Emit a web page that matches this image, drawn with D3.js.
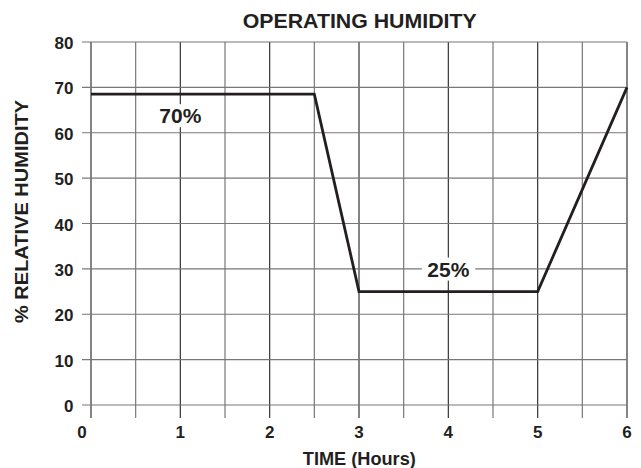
<!DOCTYPE html>
<html>
<head>
<meta charset="utf-8">
<script src="https://cdn.jsdelivr.net/npm/d3@7"></script>
<style>
  body { margin: 0; background: #fff; }
  text { font-family: "Liberation Sans", Arial, sans-serif; font-weight: bold; fill: #231f20; }
</style>
</head>
<body>
<div id="chart"></div>
<script>
// profile points (hours, % RH)
var hours = [0, 2.5, 3, 5, 6];
var humidity = [68.5, 68.5, 25, 25, 70];
var xTicks = [0, 1, 2, 3, 4, 5, 6];
var yTicks = [0, 10, 20, 30, 40, 50, 60, 70, 80];
var labelText = ["70%", "25%"];
var labelX = [1, 4];
var labelY = [62.1, 28.3];

var width = 641, height = 468;
var margin = { left: 91, right: 14, top: 42, bottom: 63 };

var x = d3.scaleLinear().domain([0, 6]).range([margin.left, width - margin.right]);
var y = d3.scaleLinear().domain([0, 80]).range([height - margin.bottom, margin.top]);

var svg = d3.select("#chart").append("svg")
  .attr("width", width)
  .attr("height", height);

// vertical grid, every half hour, sticking out below the plot
var halfHours = d3.range(0, 6.01, 0.5);
svg.append("g").selectAll("line")
  .data(halfHours)
  .enter().append("line")
  .attr("x1", d => x(d)).attr("x2", d => x(d))
  .attr("y1", y(80)).attr("y2", y(0) + 13)
  .attr("stroke", d => d % 1 === 0 ? "#333" : "#777")
  .attr("stroke-width", 1.2);

// horizontal grid, sticking out to the left
svg.append("g").selectAll("line")
  .data(yTicks)
  .enter().append("line")
  .attr("x1", x(0) - 9).attr("x2", x(6))
  .attr("y1", d => y(d)).attr("y2", d => y(d))
  .attr("stroke", "#777")
  .attr("stroke-width", 1.2);

// tick labels
svg.append("g").selectAll("text")
  .data(yTicks)
  .enter().append("text")
  .attr("x", 73.5)
  .attr("y", d => y(d) + 7)
  .attr("text-anchor", "end")
  .attr("font-size", "17px")
  .text(d => d);

svg.append("g").selectAll("text")
  .data(xTicks)
  .enter().append("text")
  .attr("x", d => d === 0 ? x(d) - 9 : x(d))
  .attr("y", 438)
  .attr("text-anchor", "middle")
  .attr("font-size", "17px")
  .text(d => d);

// the humidity profile
var line = d3.line().x(d => x(d[0])).y(d => y(d[1]));
svg.append("path")
  .datum(d3.zip(hours, humidity))
  .attr("d", line)
  .attr("fill", "none")
  .attr("stroke", "#231f20")
  .attr("stroke-width", 2.8)
  .attr("stroke-linejoin", "miter");

// level labels on white boxes
labelText.forEach(function (t, i) {
  var g = svg.append("g");
  var txt = g.append("text")
    .attr("x", x(labelX[i]))
    .attr("y", y(labelY[i]))
    .attr("text-anchor", "middle")
    .attr("font-size", "21px")
    .text(t);
  var bb = txt.node().getBBox();
  g.insert("rect", "text")
    .attr("x", bb.x - 5.5).attr("y", bb.y)
    .attr("width", bb.width + 11).attr("height", bb.height)
    .attr("fill", "#fff");
});

// titles
svg.append("text")
  .attr("x", 359.7).attr("y", 28)
  .attr("text-anchor", "middle")
  .attr("font-size", "21px")
  .attr("textLength", 234)
  .attr("lengthAdjust", "spacingAndGlyphs")
  .text("OPERATING HUMIDITY");

svg.append("text")
  .attr("x", 359.3).attr("y", 465)
  .attr("text-anchor", "middle")
  .attr("font-size", "19px")
  .attr("textLength", 113)
  .attr("lengthAdjust", "spacingAndGlyphs")
  .text("TIME (Hours)");

svg.append("text")
  .attr("transform", "translate(28,211.5) rotate(-90)")
  .attr("text-anchor", "middle")
  .attr("font-size", "18px")
  .attr("textLength", 223)
  .attr("lengthAdjust", "spacingAndGlyphs")
  .text("% RELATIVE HUMIDITY");
</script>
</body>
</html>
